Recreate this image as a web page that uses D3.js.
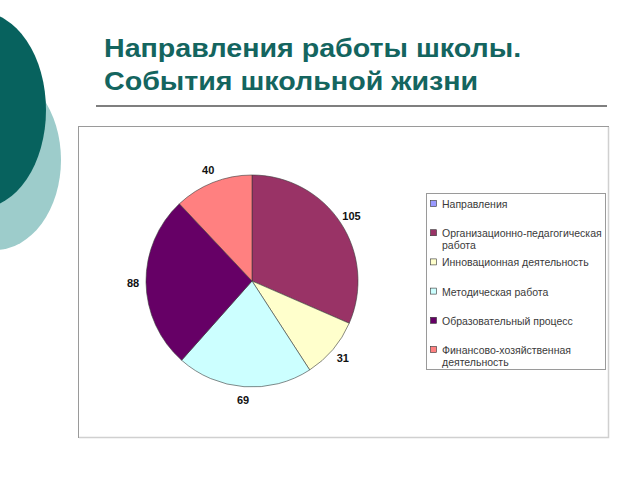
<!DOCTYPE html>
<html>
<head>
<meta charset="utf-8">
<script src="https://cdn.jsdelivr.net/npm/d3@7"></script>
<style>
html,body{margin:0;padding:0;background:#fff;}
svg{display:block;}
</style>
</head>
<body>
<svg id="chart" width="640" height="480"></svg>
<script>
const titleLines = ["Направления работы школы.", "События школьной жизни"];
const categories = [
  "Направления",
  "Организационно-педагогическая работа",
  "Инновационная деятельность",
  "Методическая работа",
  "Образовательный процесс",
  "Финансово-хозяйственная деятельность"
];
const values = [0, 105, 31, 69, 88, 40];
const colors = ["#9999ff", "#993366", "#ffffcc", "#ccffff", "#660066", "#ff8080"];

const svg = d3.select("#chart");

// decorative background shapes
svg.append("ellipse").attr("cx", -5).attr("cy", 160).attr("rx", 66).attr("ry", 90).attr("fill", "#9dcccb");
svg.append("ellipse").attr("cx", -20).attr("cy", 110).attr("rx", 66).attr("ry", 98).attr("fill", "#07625e");

// title (slightly widened glyphs)
const title = svg.append("text").attr("font-family", "Liberation Sans, Arial, sans-serif")
  .attr("font-weight", "bold").attr("font-size", 26.5).attr("fill", "#14655f")
  .attr("transform", "translate(104,0) scale(1.08,1)");
titleLines.forEach((t, i) => {
  title.append("tspan").attr("x", 0).attr("y", 57 + i * 33).text(t);
});
svg.append("line").attr("x1", 96).attr("x2", 607).attr("y1", 106).attr("y2", 106)
  .attr("stroke", "#555").attr("stroke-width", 1.5);

// chart area box
svg.append("rect").attr("x", 78.5).attr("y", 126.5).attr("width", 530).attr("height", 311)
  .attr("fill", "#fff").attr("stroke", "#9a9a9a").attr("stroke-width", 1);
svg.append("path").attr("d", "M608.5,127 V437.5 H79").attr("fill", "none").attr("stroke", "#d0d0d0").attr("stroke-width", 1.5);

// pie
const cx = 252, cy = 281, r = 106;
const pie = d3.pie().sort(null).value(d => d.v);
const data = values.map((v, i) => ({ v, name: categories[i], color: colors[i] }));
const arcs = pie(data);
const arc = d3.arc().innerRadius(0).outerRadius(r);
const labelArc = d3.arc().innerRadius(119).outerRadius(119);
const g = svg.append("g").attr("transform", `translate(${cx},${cy})`);
g.selectAll("path").data(arcs.filter(d => d.data.v > 0)).join("path")
  .attr("d", arc).attr("fill", d => d.data.color)
  .attr("stroke", "#3a3a3a").attr("stroke-width", 0.6);
g.selectAll("text").data(arcs.filter(d => d.data.v > 0)).join("text")
  .attr("transform", d => `translate(${labelArc.centroid(d)})`)
  .attr("text-anchor", "middle").attr("dominant-baseline", "central")
  .attr("font-family", "Liberation Sans, Arial, sans-serif").attr("font-weight", "bold")
  .attr("font-size", 11).attr("fill", "#111")
  .text(d => d.data.v);

// legend
svg.append("rect").attr("x", 426.5).attr("y", 193.5).attr("width", 179).attr("height", 176)
  .attr("fill", "#fff").attr("stroke", "#9a9a9a").attr("stroke-width", 1);
const lg = svg.append("g");
const step = 29.2, y0 = 204;
data.forEach((d, i) => {
  const y = y0 + i * step;
  lg.append("rect").attr("x", 430.5).attr("y", y - 3.5).attr("width", 6).attr("height", 6)
    .attr("fill", d.color).attr("stroke", "#333").attr("stroke-width", 0.6);
  const t = lg.append("text").attr("font-family", "Liberation Sans, Arial, sans-serif")
    .attr("font-size", 10.5).attr("fill", "#3a3a3a");
  const words = d.name.split(" ");
  let line = [], lineNo = 0;
  let ts = t.append("tspan").attr("x", 442).attr("y", y).attr("dominant-baseline", "central");
  words.forEach(w => {
    line.push(w);
    ts.text(line.join(" "));
    if (ts.node().getComputedTextLength() > 162 && line.length > 1) {
      line.pop();
      ts.text(line.join(" "));
      line = [w];
      lineNo++;
      ts = t.append("tspan").attr("x", 442).attr("y", y + lineNo * 12).attr("dominant-baseline", "central").text(w);
    }
  });
});
</script>
</body>
</html>
